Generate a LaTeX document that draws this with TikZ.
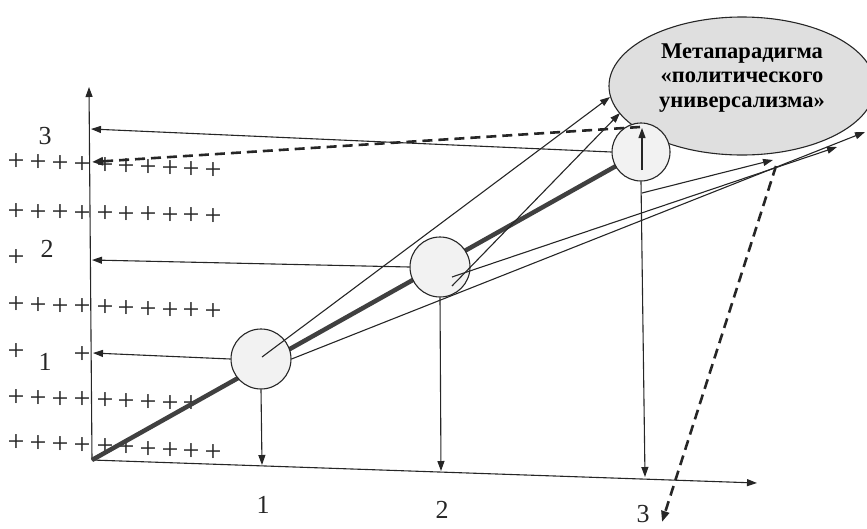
\documentclass[tikz,border=0pt]{standalone}
\usepackage{fontspec}
\setmainfont{Liberation Serif}
\usetikzlibrary{arrows.meta,shapes.geometric}
\begin{document}
\begin{tikzpicture}[x=1pt,y=-1pt,
  ln/.style={draw=black!85, line width=1.1pt},
  arr/.style={ln, -{Triangle[length=10pt,width=7pt]}},
  dsh/.style={draw=black!85, line width=2.6pt, dash pattern=on 10pt off 6pt, -{Triangle[length=11pt,width=8pt]}},
  circ/.style={circle, draw=black!85, line width=1.1pt, fill=gray!10, minimum size=60pt, inner sep=0pt},
  num/.style={font=\fontsize{26}{26}\selectfont, inner sep=0pt, text=black!85},
  pl/.style={font=\fontsize{30}{30}\selectfont, inner sep=0pt, text=black!85},
]
\useasboundingbox (0,0) rectangle (867,528);

% ellipse
\node[ellipse, draw=black!85, line width=1.1pt, fill=gray!25, minimum width=266pt, minimum height=138pt] (meta) at (742,86) {};
\node[align=center, font=\bfseries\fontsize{22.5}{24.5}\selectfont, inner sep=0pt] (metatext) at (742,78) {Метапарадигма\\«политического\\универсализма»};

% axes
\coordinate (O) at (92,460);
\coordinate (ytip) at (89,87);
\coordinate (xtip) at (757,483);
\draw[arr] (O) -- (ytip);
\draw[arr] (O) -- (xtip);

% plus rows
\foreach \i/\x in {1/16,2/38,3/60,4/82,5/105,6/126,7/148,8/170,9/191,10/213} {
  \node[pl] (pa\i) at (\x,{162+0.046*(\x-16)}) {+};
  \node[pl] (pb\i) at (\x,{212+0.025*(\x-16)}) {+};
  \node[pl] (pc\i) at (\x,{305+0.036*(\x-16)}) {+};
  \node[pl] (pe\i) at (\x,{443+0.05*(\x-16)}) {+};
}
\foreach \i/\x in {1/16,2/38,3/60,4/82,5/105,6/126,7/148,8/170,9/191} {
  \node[pl] (pd\i) at (\x,{398+0.036*(\x-16)}) {+};
}
\node[pl] (pf1) at (16,258) {+};
\node[pl] (pg1) at (16,352) {+};
\node[pl] (pg2) at (82,355) {+};

% axis labels
\node[num] (ly3) at (45,136) {3};
\node[num] (ly2) at (47,249) {2};
\node[num] (ly1) at (45,362) {1};
\node[num] (lx1) at (263,505) {1};
\node[num] (lx2) at (442,510) {2};
\node[num] (lx3) at (643,514) {3};

% thick line
\coordinate (c3c) at (641,152);
\draw[draw=black!75, line width=4.5pt] (O) -- (c3c);

% circles
\node[circ] (c1) at (261,359) {};
\node[circ] (c2) at (440,267) {};
\node[circ, minimum size=58pt] (c3) at (641,152) {};

% endpoints
\coordinate (y3) at (91,129);
\coordinate (yd) at (92,162);
\coordinate (y2) at (92,260);
\coordinate (y1) at (93,353);
\coordinate (x1) at (262,465);
\coordinate (x2) at (441,471);
\coordinate (x3) at (645,477);
\coordinate (e1) at (610,97);
\coordinate (e2) at (620,113);
\coordinate (e3) at (642,128);
\coordinate (r1) at (773,160);
\coordinate (r2) at (837,147);
\coordinate (r3) at (865,132);
\coordinate (s1) at (262,357);
\coordinate (s2a) at (452,277);
\coordinate (s2b) at (452,286);
\coordinate (s3) at (642,170);
\coordinate (v3) at (642,193);
\coordinate (dd0) at (776,166);
\coordinate (dd1) at (662,522);
\coordinate (dt0) at (640,127);

% horizontal arrows to y axis
\draw[arr] (c1.west) -- (y1);
\draw[arr] (c2.west) -- (y2);
\draw[arr] (c3.west) -- (y3);
% vertical arrows to x axis
\draw[arr] (c1.south) -- (x1);
\draw[arr] (c2.south) -- (x2);
\draw[arr] (c3.south) -- (x3);
% arrows to the metaparadigm
\draw[arr] (s1) -- (e1);
\draw[arr] (s2b) -- (e2);
\draw[arr] (s3) -- (e3);
\draw[arr] (c1.east) -- (r3);
\draw[arr] (s2a) -- (r2);
\draw[arr] (v3) -- (r1);
% dashed
\draw[dsh] (dt0) -- (yd);
\draw[dsh] (dd0) -- (dd1);
\end{tikzpicture}
\end{document}
